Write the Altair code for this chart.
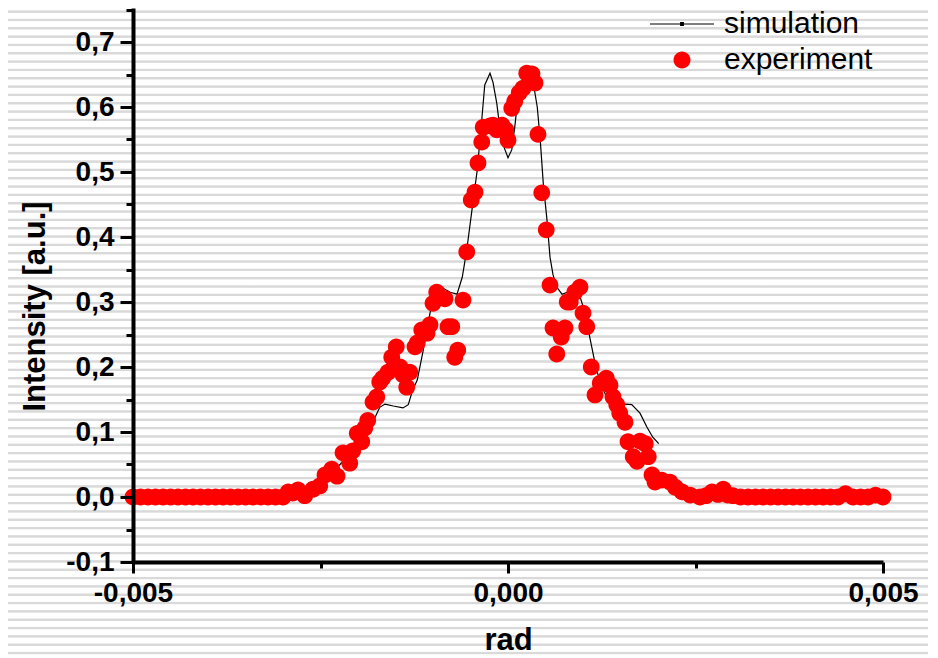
import altair as alt
import pandas as pd

# ---- simulation curve (x in rad, y in a.u.) ----
sim_x = [-0.005, -0.0030, -0.0028, -0.0026, -0.0024, -0.0022, -0.0020, -0.00185,
         -0.00177, -0.00171, -0.00164, -0.00153, -0.00140, -0.00133, -0.00127, -0.00121,
         -0.00113, -0.00104, -0.00097, -0.00088, -0.00077, -0.00068, -0.00061, -0.00055,
         -0.00048, -0.00041, -0.00035, -0.00031, -0.00024, -0.00020, -0.00015, -0.00011,
         -0.00005, 0.0, 0.00005, 0.00009, 0.00013, 0.00020, 0.00027, 0.00033,
         0.00039, 0.00043, 0.00047, 0.00052, 0.00056, 0.00060, 0.00065, 0.00072,
         0.00079, 0.00085, 0.00096, 0.00103, 0.00109, 0.00116, 0.00123, 0.00129,
         0.00136, 0.00145, 0.00156, 0.00165, 0.00176, 0.00185, 0.00193, 0.00201]
sim_y = [0.0, 0.0, 0.003, 0.012, 0.030, 0.055, 0.085, 0.110,
         0.123, 0.138, 0.143, 0.140, 0.137, 0.142, 0.165, 0.180,
         0.226, 0.283, 0.318, 0.322, 0.315, 0.312, 0.338, 0.380,
         0.442, 0.503, 0.580, 0.634, 0.652, 0.638, 0.606, 0.569,
         0.537, 0.522, 0.534, 0.569, 0.611, 0.642, 0.652, 0.642,
         0.600, 0.549, 0.483, 0.426, 0.369, 0.342, 0.323, 0.312,
         0.315, 0.322, 0.308, 0.283, 0.246, 0.206, 0.175, 0.160,
         0.145, 0.138, 0.143, 0.142, 0.129, 0.108, 0.092, 0.082]

# ---- experiment points (x in mrad, y in a.u.) ----
exp_x_mrad = [-5.0, -4.9, -4.8, -4.7, -4.6, -4.5, -4.4, -4.3, -4.2, -4.1,
              -4.0, -3.9, -3.8, -3.7, -3.6, -3.5, -3.4, -3.3, -3.2, -3.1,
              -3.0, -2.93, -2.87, -2.8, -2.71, -2.6, -2.51, -2.44, -2.35, -2.28,
              -2.2, -2.11, -2.07, -2.01, -1.95, -1.91, -1.87, -1.8, -1.75, -1.71,
              -1.67, -1.6, -1.55, -1.49, -1.44, -1.4, -1.35, -1.31, -1.24, -1.21,
              -1.15, -1.08, -1.04, -1.0, -0.95, -0.84, -0.8, -0.75, -0.71, -0.67,
              -0.6, -0.55, -0.49, -0.44, -0.4, -0.35, -0.33, -0.24, -0.2, -0.15,
              -0.08, -0.03, 0.0, 0.05, 0.09, 0.15, 0.2, 0.25, 0.32, 0.36,
              0.4, 0.45, 0.51, 0.56, 0.6, 0.65, 0.71, 0.76, 0.79, 0.83,
              0.89, 0.96, 1.0, 1.05, 1.11, 1.16, 1.23, 1.31, 1.36, 1.4,
              1.45, 1.49, 1.56, 1.6, 1.67, 1.72, 1.76, 1.83, 1.87, 1.92,
              1.96, 2.05, 2.16, 2.23, 2.32, 2.43, 2.56, 2.64, 2.72, 2.8,
              2.87, 2.93, 3.0, 3.1, 3.2, 3.3, 3.4, 3.5, 3.6, 3.7,
              3.8, 3.9, 4.0, 4.1, 4.2, 4.3, 4.4, 4.5, 4.6, 4.7,
              4.8, 4.9, 5.0]
exp_y = [0.0, 0.0, 0.0, 0.0, 0.0, 0.0, 0.0, 0.0, 0.0, 0.0,
         0.0, 0.0, 0.0, 0.0, 0.0, 0.0, 0.0, 0.0, 0.0, 0.0,
         0.0, 0.008, 0.006, 0.011, 0.002, 0.012, 0.017, 0.034, 0.043, 0.032,
         0.068, 0.052, 0.071, 0.098, 0.085, 0.106, 0.118, 0.146, 0.154, 0.177,
         0.183, 0.192, 0.215, 0.231, 0.200, 0.188, 0.169, 0.192, 0.231, 0.237,
         0.257, 0.252, 0.265, 0.298, 0.315, 0.305, 0.262, 0.262, 0.215, 0.226,
         0.303, 0.377, 0.457, 0.469, 0.514, 0.546, 0.569, 0.571, 0.572, 0.565,
         0.572, 0.565, 0.549, 0.598, 0.609, 0.622, 0.629, 0.652, 0.651, 0.637,
         0.558, 0.468, 0.411, 0.326, 0.260, 0.220, 0.246, 0.260, 0.300, 0.300,
         0.315, 0.323, 0.283, 0.262, 0.200, 0.157, 0.175, 0.183, 0.172, 0.154,
         0.142, 0.129, 0.115, 0.085, 0.062, 0.055, 0.086, 0.082, 0.062, 0.034,
         0.023, 0.026, 0.023, 0.015, 0.008, 0.003, 0.0, 0.002, 0.008, 0.004,
         0.012, 0.003, 0.002, 0.0, 0.0, 0.0, 0.0, 0.0, 0.0, 0.0,
         0.0, 0.0, 0.0, 0.0, 0.0, 0.0, 0.0, 0.005, 0.0, 0.0,
         0.0, 0.003, 0.0]

series_names = ["simulation", "experiment"]
series_colors = ["black", "red"]

y_tick_values = [-0.1, -0.05, 0.0, 0.05, 0.1, 0.15, 0.2, 0.25, 0.3, 0.35,
                 0.4, 0.45, 0.5, 0.55, 0.6, 0.65, 0.7, 0.75]
x_tick_values = [-0.005, -0.0025, 0.0, 0.0025, 0.005]

sim_df = pd.DataFrame({"x": sim_x, "y": sim_y, "series": "simulation"})
exp_df = pd.DataFrame({"x": [v * 1e-3 for v in exp_x_mrad], "y": exp_y, "series": "experiment"})

W, H = 750, 554
PAD = {"left": 125, "right": 45, "top": 0, "bottom": 95}

# legend symbol paths (unit = half of sqrt(symbol size) = 16 px)
line_path = "M-2,-0.036H2V0.036H-2Z M-0.12,-0.12H0.12V0.12H-0.12Z"
circle_path = "M-0.53,0A0.53,0.53,0,1,0,0.53,0A0.53,0.53,0,1,0,-0.53,0Z"

FONT = "Liberation Sans"

yaxis = alt.Axis(
    values=y_tick_values,
    labelExpr="abs(round(datum.value*20))%2==0 ? replace(replace(format(datum.value,'.1f'),'.',','),'\u2212','-') : ''",
    tickSize={"condition": {"test": "abs(round(datum.value*20))%2==0", "value": 13}, "value": 7},
    tickWidth=3, tickColor="black", domainColor="black", domainWidth=4,
    labelFont=FONT, labelFontSize=28, labelFontWeight="bold", labelColor="black",
    labelPadding=6, labelOverlap=False,
    title="Intensity [a.u.]", titleFont=FONT, titleFontSize=31, titleFontWeight="bold",
    titleColor="black", titleX=-98, titleY=298, titleAngle=270, titleAlign="center",
    titleBaseline="middle", grid=False, zindex=1,
)
xaxis = alt.Axis(
    values=x_tick_values,
    labelExpr="(abs(datum.value) < 0.001 || abs(datum.value) > 0.004) ? replace(replace(format(datum.value,'.3f'),'.',','),'\u2212','-') : ''",
    tickSize={"condition": {"test": "(abs(datum.value) < 0.001 || abs(datum.value) > 0.004)", "value": 11}, "value": 6},
    tickWidth=3, tickColor="black", domainColor="black", domainWidth=4,
    labelFont=FONT, labelFontSize=28, labelFontWeight="bold", labelColor="black",
    labelPadding=6, labelOverlap=False, labelFlush=False,
    title="rad", titleFont=FONT, titleFontSize=31, titleFontWeight="bold",
    titleColor="black", titleY=78, titleBaseline="middle", grid=False, zindex=1,
)

xs = alt.Scale(domain=[-0.005, 0.005], nice=False, zero=False)
ys = alt.Scale(domain=[-0.1, -0.1 + H / 650.0], nice=False, zero=False)
color_scale = alt.Scale(domain=series_names, range=series_colors)
shape_scale = alt.Scale(domain=series_names, range=[line_path, circle_path])

# background stripes (decoration) via gradient
total_h = H + PAD["top"] + PAD["bottom"]
stops = []
period = 8.33
c = -4.7 + period
while c + 1.6 < total_h:
    for off, col in [(c - 1.6, "#ffffff"), (c - 0.8, "#d9d9d9"), (c + 0.8, "#d9d9d9"), (c + 1.6, "#ffffff")]:
        stops.append(alt.GradientStop(offset=max(0.0, off / total_h), color=col))
    c += period
bg = alt.Chart(alt.Data(values=[{}])).mark_rect(
    fill=alt.LinearGradient(gradient="linear", stops=stops, x1=0, x2=0, y1=0, y2=1)
).encode(
    x=alt.value(-PAD["left"]), x2=alt.value(W + PAD["right"]),
    y=alt.value(-PAD["top"]), y2=alt.value(H + PAD["bottom"]),
)

leg = alt.Legend(title=None, orient="none", legendX=533, legendY=0,
                 symbolSize=1024, symbolStrokeWidth=0, labelFont=FONT, labelFontSize=30,
                 labelColor="black", labelOffset=26, labelLimit=400, rowPadding=5, zindex=1)

line = alt.Chart(sim_df).mark_line(strokeWidth=1.2).encode(
    x=alt.X("x:Q", scale=xs, axis=xaxis),
    y=alt.Y("y:Q", scale=ys, axis=yaxis),
    color=alt.Color("series:N", scale=color_scale, legend=leg),
)

pts = alt.Chart(exp_df).mark_point(filled=True, opacity=1, size=1000).encode(
    x=alt.X("x:Q", scale=xs, axis=xaxis),
    y=alt.Y("y:Q", scale=ys, axis=yaxis),
    color=alt.Color("series:N", scale=color_scale, legend=leg),
    shape=alt.Shape("series:N", scale=shape_scale, legend=leg),
)

chart = alt.layer(bg, line, pts).properties(
    width=W, height=H, padding=PAD, autosize="none", background="white"
).configure_view(stroke=None).configure(font=FONT)

chart.save("out.html", embed_options={"renderer": "svg", "actions": False})
